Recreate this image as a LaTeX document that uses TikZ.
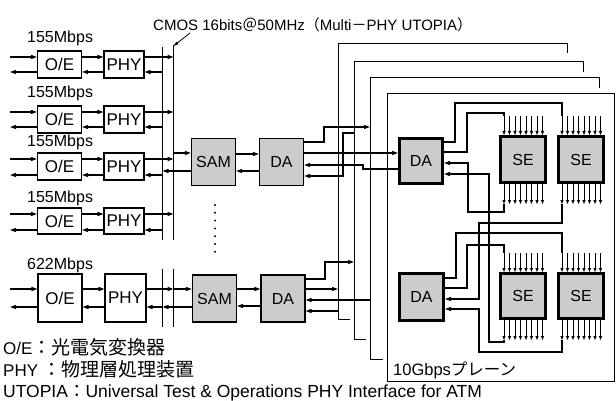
\documentclass[tikz,border=0pt]{standalone}
\usepackage{fontspec}
\setmainfont{Liberation Sans}
\newfontfamily\jp{Noto Sans CJK JP}
\usetikzlibrary{arrows.meta}
\begin{document}
\begin{tikzpicture}[x=1pt,y=-1pt,
  conn/.style={line width=1.1pt},
  arr/.style={line width=1.1pt,-{Triangle[length=6pt,width=4pt]}},
  pinarr/.style={line width=0.9pt,-{Triangle[length=4pt,width=3pt]}},
  wbox/.style={draw,line width=1.1pt,fill=white,inner sep=0pt,font=\fontsize{17}{17}\selectfont},
  gbox/.style={draw,line width=1.2pt,fill=gray!40,inner sep=0pt,minimum width=44pt,minimum height=47pt,font=\fontsize{16}{16}\selectfont},
  tbox/.style={draw,line width=3pt,fill=gray!40,inner sep=0pt,font=\fontsize{16}{16}\selectfont},
  planeln/.style={line width=0.9pt},
  rate/.style={anchor=base west,inner sep=0pt,font=\fontsize{16}{16}\selectfont},
  legend/.style={anchor=base west,inner sep=0pt,font=\fontsize{17}{17}\selectfont},
  busln/.style={line width=1.4pt},
]
\useasboundingbox (0,0) rectangle (616,401);

% reference coordinates: bus lines and plane edges
\coordinate (b1) at (162.5,0);
\coordinate (b2) at (173.5,0);
\coordinate (pA) at (338,0);
\coordinate (pB) at (354,0);
\coordinate (pC) at (370,0);

% stacked planes
\draw[planeln] (350,319) -- (338,319) -- (338,43) -- (567,43) -- (567,53);
\draw[planeln] (366,339) -- (354,339) -- (354,61) -- (583,61) -- (583,72);
\draw[planeln] (383,359) -- (370,359) -- (370,77) -- (599,77) -- (599,88);
\node[draw,planeln,minimum width=227pt,minimum height=288pt,inner sep=0pt,anchor=north west] (pD) at (387,93) {};
\node[rate,font=\fontsize{16.5}{16.5}\selectfont] (plabel) at (393,375) {10Gbps{\jp プレーン}};

% bus
\draw[busln] (b1 |- 0,47) -- (b1 |- 0,240);
\draw[busln] (b2 |- 0,45) -- (b2 |- 0,240);
\draw[busln] (b1 |- 0,269) -- (b1 |- 0,327);
\draw[busln] (b2 |- 0,269) -- (b2 |- 0,327);

\node[anchor=base west,inner sep=0pt,font=\fontsize{15}{15}\selectfont] (cmos) at (153,31)
  {CMOS 16bits{\jp ＠}50MHz{\jp （}Multi{\jp －}PHY UTOPIA{\jp ）}};
\coordinate (cptr) at (190,33);
\draw[line width=0.8pt,-{Triangle[length=5pt,width=3pt]}] (cptr) -- (b2 |- 0,46);

% 155Mbps rows
\foreach \i/\c/\hh/\yi/\yo/\bl in {1/64.5/27/57/72/43, 2/119.5/27/112/127/98, 3/166.5/27/159/175/147, 4/221/26/214/230/203} {
  \node[rate] (r\i) at (27,\bl) {155Mbps};
  \node[wbox,minimum width=44pt,minimum height=\hh pt] (oe\i) at (59.5,\c) {O/E};
  \node[wbox,minimum width=40pt,minimum height=\hh pt] (phy\i) at (124,\c) {PHY};
  \coordinate (lin\i) at (10,\yi);
  \coordinate (lout\i) at (10,\yo);
  \draw[arr] (lin\i) -- (oe\i.west |- lin\i);
  \draw[arr] (oe\i.west |- lout\i) -- (lout\i);
  \draw[arr] (oe\i.east |- lin\i) -- (phy\i.west |- lin\i);
  \draw[arr] (phy\i.west |- lout\i) -- (oe\i.east |- lout\i);
  \draw[arr] (phy\i.east |- lin\i) -- (b2 |- lin\i);
  \draw[arr] (b1 |- lout\i) -- (phy\i.east |- lout\i);
}

% 622Mbps row
\node[rate] (r5) at (27,269) {622Mbps};
\node[wbox,minimum width=44pt,minimum height=48pt] (oe5) at (60,298) {O/E};
\node[wbox,minimum width=41pt,minimum height=48pt] (phy5) at (125.5,298) {PHY};
\coordinate (lin5) at (10,289);
\coordinate (lout5) at (10,307);
\draw[arr] (lin5) -- (oe5.west |- lin5);
\draw[arr] (oe5.west |- lout5) -- (lout5);
\draw[arr] (oe5.east |- lin5) -- (phy5.west |- lin5);
\draw[arr] (phy5.west |- lout5) -- (oe5.east |- lout5);

% SAM / DA (left)
\node[gbox] (sam1) at (213.5,162) {SAM};
\node[gbox] (da1) at (281.5,162) {DA};
\node[gbox] (sam5) at (214.5,298.5) {SAM};
\node[gbox] (da5) at (283,298.5) {DA};

\draw[arr] (b2 |- 0,153) -- (sam1.west |- 0,153);
\draw[arr] (sam1.west |- 0,171) -- (b1 |- 0,171);
\draw[arr] (sam1.east |- 0,154) -- (da1.west |- 0,154);
\draw[arr] (da1.west |- 0,171) -- (sam1.east |- 0,171);

\draw[arr] (phy5.east |- lin5) -- (b2 |- lin5);
\draw[arr] (b2 |- lin5) -- (sam5.west |- lin5);
\draw[arr] (sam5.west |- lout5) -- (b1 |- lout5);
\draw[arr] (b1 |- lout5) -- (phy5.east |- lout5);
\draw[arr] (sam5.east |- 0,289) -- (da5.west |- 0,289);
\draw[arr] (da5.west |- 0,306) -- (sam5.east |- 0,306);

% dots
\foreach \k in {0,...,6} \fill (215,205+\k*7.8) circle (1.1pt);

% front plane boxes
\node[tbox,minimum width=43pt,minimum height=45pt] (dau) at (421,161) {DA};
\node[tbox,minimum width=44pt,minimum height=47pt] (dal) at (421.5,297) {DA};
\node[tbox,minimum width=45pt,minimum height=46pt] (se1u) at (523,159.5) {SE};
\node[tbox,minimum width=45pt,minimum height=46pt] (se2u) at (581,159.5) {SE};
\node[tbox,minimum width=45pt,minimum height=45pt] (se1l) at (523,296) {SE};
\node[tbox,minimum width=45pt,minimum height=45pt] (se2l) at (581,296) {SE};

% pins
\foreach \n in {se1u,se2u,se1l,se2l} {
  \foreach \k in {0,...,7} {
    \draw[pinarr] ([xshift=5pt+\k*5.5pt,yshift=19pt]\n.north west) -- ([xshift=5pt+\k*5.5pt]\n.north west);
    \draw[pinarr] ([xshift=5pt+\k*5.5pt]\n.south west) -- ([xshift=5pt+\k*5.5pt,yshift=-20pt]\n.south west);
  }
}

% left DA (row 1) to planes
\draw[arr] (da1.east |- 0,142) -| (324,127) -- (pC |- 0,127);
\draw[arr] (da1.east |- 0,153) -- (dau.west |- 0,153);
\draw[arr] (dau.west |- 0,169) -| (363,165) -- (da1.east |- 0,165);
\draw[arr] (pB |- 0,133) -| (343,176) -- (da1.east |- 0,176);

% left DA (row 5) to planes
\draw[arr] (da5.east |- 0,279) -| (325,262) -- (pB |- 0,262);
\draw[arr] (da5.east |- 0,289) -- (pA |- 0,289);
\draw[arr] (pC |- 0,300) -- (da5.east |- 0,300);
\draw[arr] (pA |- 0,311) -- (da5.east |- 0,311);

% front plane wiring
\draw[conn] (dau.east |- 0,142) -| (455,103) -| (562,116);
\draw[conn] (dau.east |- 0,152) -| (467,113) -| (504,116);
\draw[arr] (504,204) |- (468,212) |- (dau.east |- 0,163);
\draw[arr] (504,340) |- (489,342) |- (dau.east |- 0,174);
\draw[arr] (562,204) |- (479,223) |- (dal.east |- 0,299);
\draw[arr] (562,340) |- (479,352) |- (dal.east |- 0,309);
\draw[conn] (dal.east |- 0,278) -| (456,233) -| (562,253);
\draw[conn] (dal.east |- 0,288) -| (467,245) -| (504,253);

% legend
\node[legend] (lg1) at (3,354) {O/E{\jp\fontsize{19}{19}\selectfont ：光電気変換器}};
\node[legend] (lg2) at (3,376) {PHY {\jp\fontsize{19}{19}\selectfont ：物理層処理装置}};
\node[legend,font=\fontsize{17.5}{17.5}\selectfont] (lg3) at (3,397) {UTOPIA{\jp ：}Universal Test \& Operations PHY Interface for ATM};
\end{tikzpicture}
\end{document}
